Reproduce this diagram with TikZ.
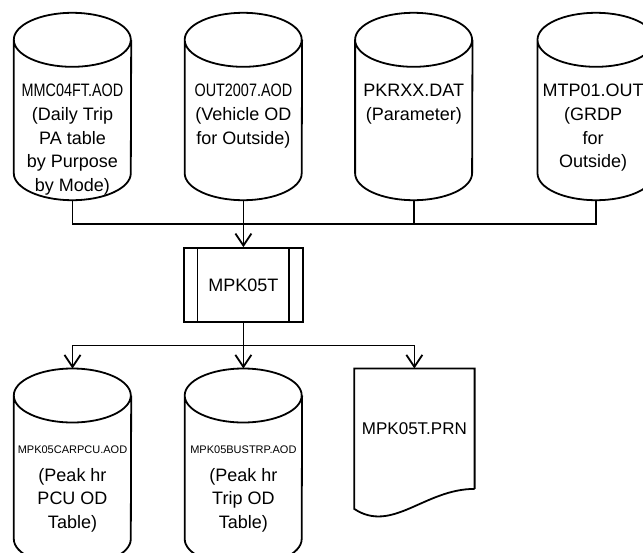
\documentclass[tikz,border=0pt]{standalone}
\usepackage{fontspec}
\setmainfont{Liberation Sans}
\usetikzlibrary{positioning, arrows.meta}

\newcommand{\narrowtxt}[1]{\scalebox{0.8}[1]{#1}}

\begin{document}
\begin{tikzpicture}[x=1pt, y=1pt,
  node distance = 53pt and 53pt, text centered,
     db/.style = {rectangle, inner sep=0pt,
                   minimum width=117pt, minimum height=187pt},
 dbtext/.style = {inner sep=0pt, align=center, font=\fontsize{18}{23.75}\selectfont},
   prog/.style = {rectangle, draw, line width=1.8pt,
                   minimum width=119pt, minimum height=74pt, font=\fontsize{18}{22}\selectfont},
    doc/.style = {rectangle, minimum width=120pt, minimum height=120pt,
                   font=\fontsize{17}{20}\selectfont},
   line/.style = {line width=1.8pt},
  arrow/.style = {line width=1.8pt, -{Straight Barb[length=12pt, width=16pt]}}
                    ]
\useasboundingbox (0,0) rectangle (643,-552);
\clip (0,0) rectangle (643,-552);
% input files
\node (c1) [db] at (72.5,-106.5) {};
\node (c2) [db, right=53.5pt of c1] {};
\node (c3) [db, right=53pt of c2] {};
\node (c4) [db, right=65pt of c3] {};
\node (t1) [dbtext, below=71pt of c1.north] {\narrowtxt{MMC04FT.AOD}\\(Daily Trip\\PA table\\by Purpose\\by Mode)};
\node (t2) [dbtext, below=71pt of c2.north] {\narrowtxt{OUT2007.AOD}\\(Vehicle OD\\for Outside)};
\node (t3) [dbtext, below=71pt of c3.north] {PKRXX.DAT\\(Parameter)};
\node (t4) [dbtext, below=71pt of c4.north, xshift=-3pt] {MTP01.OUT\\(GRDP\\for\\Outside)};
% program
\node (proc) [prog, below=47pt of c2] {MPK05T};
\draw [line] ([xshift=14.5pt]proc.north west) -- ([xshift=14.5pt]proc.south west);
\draw [line] ([xshift=-14.5pt]proc.north east) -- ([xshift=-14.5pt]proc.south east);
% output files
\node (c6) [db, minimum height=197pt, below=45.5pt of proc] {};
\node (c5) [db, minimum height=197pt, left=53.5pt of c6] {};
\node (t5) [dbtext, below=77.5pt of c5.north] {{\fontsize{11}{13}\selectfont MPK05CARPCU.AOD}\\[3.5pt](Peak hr\\PCU OD\\Table)};
\node (t6) [dbtext, below=77.5pt of c6.north] {{\fontsize{11}{13}\selectfont MPK05BUSTRP.AOD}\\[3.5pt](Peak hr\\Trip OD\\Table)};
\node (prn) [doc, anchor=north] at ([xshift=171pt]c6.north) {MPK05T.PRN};
% outlines
\foreach \c in {c1,c2,c3,c4,c5,c6}
  \draw [line] ([yshift=-27pt]\c.north west)
    arc[start angle=180, end angle=0, x radius=58.5, y radius=27]
    arc[start angle=0, end angle=-180, x radius=58.5, y radius=27]
    -- ([yshift=27pt]\c.south west)
    arc[start angle=180, end angle=360, x radius=58.5, y radius=27]
    -- ([yshift=-27pt]\c.north east);
\draw [line] (prn.south east) -- (prn.north east) -- (prn.north west) -- ([yshift=-20pt]prn.south west)
  .. controls +(38,-25) and +(-50,0) .. (prn.south east);
% connections
\coordinate (inbus) at ([yshift=-24pt]c2.south);
\coordinate (outbus) at ([yshift=-22.5pt]proc.south);
\draw [line] (c1.south) |- (inbus) -| (c4.south);
\draw [line] (c3.south) |- (inbus);
\draw [arrow] (c2.south) -- (proc);
\draw [arrow] (proc) -- (c6);
\draw [arrow] (outbus) -| (c5.north);
\draw [arrow] (outbus) -| (prn.north);
\end{tikzpicture}
\end{document}
